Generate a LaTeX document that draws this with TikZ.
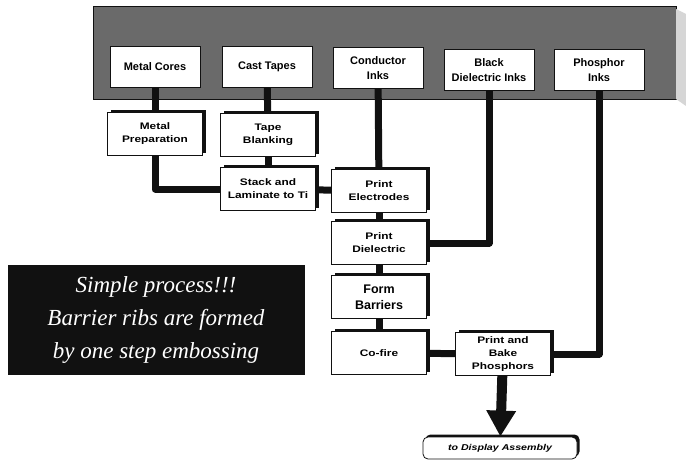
\documentclass[tikz,border=0pt]{standalone}
\usepackage{fontspec}
\setmainfont{Liberation Sans}
\newfontfamily\widefont[FakeStretch=1.25]{Liberation Sans}
\newfontfamily\notefont{Liberation Serif}
\usepackage{tikz}
\usetikzlibrary{arrows.meta, shadows}
\definecolor{ink}{HTML}{111111}
\definecolor{banner}{HTML}{6A6A6A}
\definecolor{bannerend}{HTML}{D6D6D6}
\definecolor{paper}{HTML}{FFFFFF}
\tikzset{
  source/.style={
    rectangle,
    minimum width=90pt, minimum height=41pt, inner sep=2pt,
    align=center, draw=ink, thick,
    fill=paper, font=\fontsize{11}{15}\selectfont\bfseries,
  },
  process/.style={
    rectangle,
    minimum width=95pt, minimum height=43pt, inner sep=2pt,
    align=center, draw=ink, thick,
    fill=paper, font=\widefont\fontsize{9.5}{13}\selectfont\bfseries,
    general shadow={fill=ink, shadow xshift=3pt, shadow yshift=3pt},
  },
  bigstep/.style={process, font=\fontsize{12.5}{16}\selectfont\bfseries},
  terminal/.style={
    rectangle, rounded corners=5pt,
    minimum width=154pt, minimum height=22pt, inner sep=2pt,
    draw=ink, thick, fill=paper,
    font=\widefont\fontsize{8.5}{10}\selectfont\bfseries\itshape,
    general shadow={fill=ink, shadow xshift=2.5pt, shadow yshift=2.5pt},
  },
  note/.style={
    rectangle, fill=ink, text=white,
    minimum width=297pt, minimum height=110pt,
    align=center, font=\notefont\itshape\fontsize{23}{33}\selectfont,
  },
  link/.style={line width=7pt, color=ink, line join=round},
  arrow/.style={-{Triangle[width=28pt, length=26pt]}, line width=10pt, color=ink},
}

\begin{document}
\begin{tikzpicture}[x=1pt, y=-1pt]

  \useasboundingbox (0,0) rectangle (686,463);

  % supply bar
  \fill[banner] (93,6) rectangle (676,99);
  \draw[ink, thick] (93,6) rectangle (676,99);
  \fill[bannerend] (676,9) -- (686,14) -- (686,106) -- (676,99) -- cycle;

  \node[source] (mcores) at (155,67) {Metal Cores};
  \node[source] (ctapes) at (267,67) {Cast Tapes};
  \node[source] (cinks) at (378,68) {Conductor\\Inks};
  \node[source] (binks) at (489,70) {Black\\Dielectric Inks};
  \node[source] (pinks) at (599,70) {Phosphor\\Inks};

  \node[process] (mprep) at (155,134) {Metal\\Preparation};
  \node[process] (tblank) at (268,135) {Tape\\Blanking};
  \node[process] (stack) at (268,189) {Stack and\\Laminate to Ti};
  \node[process] (pelec) at (379,191) {Print\\Electrodes};
  \node[process] (pdiel) at (379,243) {Print\\Dielectric};
  \node[bigstep] (form) at (379,297) {Form\\Barriers};
  \node[process] (cofire) at (379,353) {Co-fire};
  \node[process] (bake) at (503,354) {Print and\\Bake\\Phosphors};
  \node[terminal] (display) at (500,448) {to Display Assembly};

  \node[note] (remark) at (156,320) {Simple process!!!\\Barrier ribs are formed\\by one step embossing};

  \draw[link] (mcores) -- (mprep);
  \draw[link] (ctapes) -- (tblank);
  \draw[link] (tblank) -- (stack);
  \draw[link] (mprep.south) |- (stack.west);
  \draw[link] (stack) -- (pelec);
  \draw[link] (cinks) -- (pelec);
  \draw[link] (pelec) -- (pdiel);
  \draw[link] (binks.south) |- (pdiel.east);
  \draw[link] (pdiel) -- (form);
  \draw[link] (form) -- (cofire);
  \draw[link] (cofire) -- (bake);
  \draw[link] (pinks.south) |- (bake.east);
  \draw[arrow] (bake) -- (display);

\end{tikzpicture}
\end{document}
